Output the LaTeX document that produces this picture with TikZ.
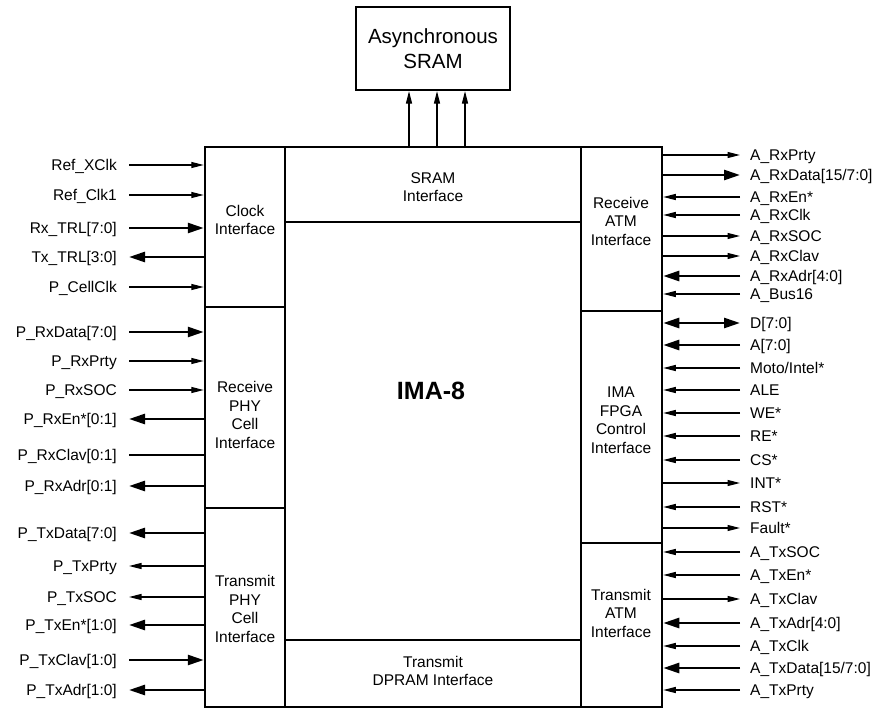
\documentclass[tikz,border=0pt]{standalone}
\usepackage{fontspec}
\setmainfont{Liberation Sans}
\usetikzlibrary{arrows.meta, positioning}

\begin{document}
\begin{tikzpicture}[
    x=1pt, y=-1pt,
    every node/.style={align=center, font=\fontsize{15.5}{18.5}\selectfont},
    block/.style={draw, line width=2.5pt, inner sep=0pt},
    sig/.style={inner sep=0pt, text height=11pt, text depth=0pt},
    wire/.style={line width=1.2pt},
    bus/.style={line width=2.6pt},
    part/.style={line width=1.3pt},
    win/.style={wire, -{Triangle[length=12.5pt, width=6pt]}},
    wout/.style={wire, {Triangle[length=12.5pt, width=6pt]}-},
    bin/.style={bus, -{Triangle[length=16pt, width=10pt]}},
    bout/.style={bus, {Triangle[length=16pt, width=10pt]}-},
    bboth/.style={bus, {Triangle[length=16pt, width=10pt]}-{Triangle[length=16pt, width=10pt]}},
    bnone/.style={bus}
]
    \useasboundingbox (0,0) rectangle (875,709);

    % Nodes
    \node[block, line width=2.2pt, minimum width=154pt, minimum height=83pt,
          font=\fontsize{20.5}{25}\selectfont] (sram) at (433,48.5) {Asynchronous\\SRAM};
    \node[block, minimum width=457pt, minimum height=560pt] (ima) at (433.5,427) {};
    \node[font=\bfseries\fontsize{25}{30}\selectfont] (title) at (431,391) {IMA-8};

    % Partitions of the chip
    \draw[part] (285,147) -- (285,707);
    \draw[part] (581,147) -- (581,707);
    \draw[part] (285,222) -- (581,222);
    \draw[part] (285,640) -- (581,640);
    \draw[part] (205,307) -- (285,307);
    \draw[part] (205,508) -- (285,508);
    \draw[part] (581,311) -- (662,311);
    \draw[part] (581,543) -- (662,543);

    \node (clk) at (245,220) {Clock\\Interface};
    \node (rxphy) at (245,415) {Receive\\PHY\\Cell\\Interface};
    \node (txphy) at (245,609) {Transmit\\PHY\\Cell\\Interface};
    \node (sramif) at (433,187) {SRAM\\Interface};
    \node (dpram) at (433,671) {Transmit\\DPRAM Interface};
    \node (rxatm) at (621,221) {Receive\\ATM\\Interface};
    \node (fpga) at (621,420) {IMA\\FPGA\\Control\\Interface};
    \node (txatm) at (621,613) {Transmit\\ATM\\Interface};

    % SRAM bus
    \foreach \dx in {-24,4,32}
        \draw[win] ([xshift=\dx pt]sram.south |- ima.north) -- ([xshift=\dx pt]sram.south);

    % Left side signals
    \foreach \y/\txt/\st [count=\i] in {
        165/Ref\_XClk/win, 195/Ref\_Clk1/win, 228/Rx\_TRL[7:0]/bin,
        257/Tx\_TRL[3:0]/bout, 287/P\_CellClk/win,
        332/P\_RxData[7:0]/bin, 361/P\_RxPrty/win, 390/P\_RxSOC/win,
        419/P\_RxEn*[0:1]/bout, 455/P\_RxClav[0:1]/bnone, 486/P\_RxAdr[0:1]/bout,
        533/P\_TxData[7:0]/bout, 566/P\_TxPrty/wout, 597/P\_TxSOC/wout,
        625/P\_TxEn*[1:0]/bout, 660/P\_TxClav[1:0]/bin, 690/P\_TxAdr[1:0]/bout} {
        \node[sig, anchor=east] (L\i) at (117,\y) {\txt};
        \draw[\st] ([xshift=12pt]L\i.east) -- (L\i.east -| ima.west);
    }

    % Right side signals
    \foreach \y/\txt/\st [count=\i] in {
        155/A\_RxPrty/wout, 175/{A\_RxData[15/7:0]}/bout, 197/A\_RxEn*/win,
        215/A\_RxClk/win, 236/A\_RxSOC/wout, 256/A\_RxClav/wout,
        276/A\_RxAdr[4:0]/bin, 294/A\_Bus16/win,
        323/D[7:0]/bboth, 345/A[7:0]/bin, 368/{Moto/Intel*}/win, 390/ALE/win,
        413/WE*/win, 436/RE*/win, 460/CS*/win, 483/INT*/wout, 507/RST*/win,
        528/Fault*/wout,
        552/A\_TxSOC/win, 575/A\_TxEn*/win, 599/A\_TxClav/wout,
        623/A\_TxAdr[4:0]/bin, 646/A\_TxClk/win, 668/{A\_TxData[15/7:0]}/bin,
        690/A\_TxPrty/win} {
        \node[sig, anchor=west] (R\i) at (750,\y) {\txt};
        \draw[\st] ([xshift=-10pt]R\i.west) -- (R\i.west -| ima.east);
    }

\end{tikzpicture}
\end{document}
